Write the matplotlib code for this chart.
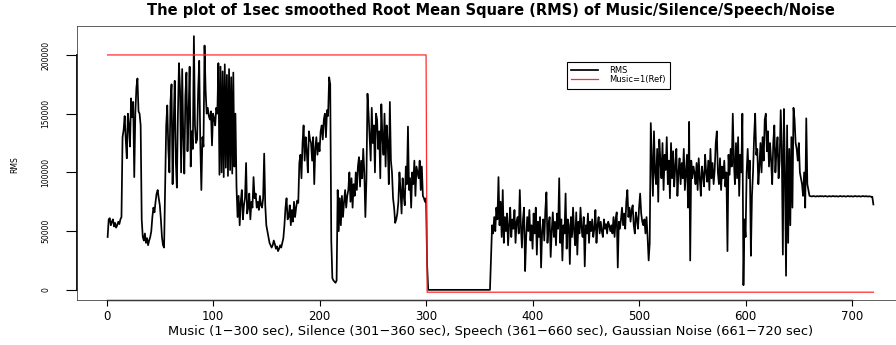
import numpy as np
import matplotlib
matplotlib.use("Agg")
import matplotlib.pyplot as plt


# 1 sec smoothed RMS, in thousands, one value per second
music = [45, 60, 61, 55, 58, 60, 54, 57, 53, 55, 58, 56, 60, 62,
         130, 136, 148, 128, 112, 150, 140, 122, 163, 147, 160, 96, 150, 172, 180, 152, 150, 140,
         60, 45, 42, 48, 40, 44, 38, 42, 45,
         50, 62, 70, 66, 75, 82, 85, 78, 72, 60, 45, 38, 36,
         90, 140, 157, 120, 100, 160, 175, 90, 140, 178, 110, 87, 150,
         193, 170, 100, 188, 130, 99, 165, 185, 118, 150, 190, 105, 135, 120,
         216, 140, 125, 128, 170, 195, 125, 85, 130, 122, 208, 170, 150,
         155, 148, 145, 152, 123, 150, 146, 140, 155, 150,
         193, 98, 190, 100, 186, 96, 192, 104, 183, 97, 188, 102, 181, 99, 185, 105, 150,
         88, 62, 80, 55, 75, 85, 60, 72, 78, 108, 65, 70, 82, 60, 75, 70, 96, 78, 82, 70,
         75, 68, 80, 72, 70, 78, 116, 72, 55, 50, 45, 40, 38,
         36, 38, 42, 39, 35, 37, 33, 35, 38, 36, 40, 44,
         55, 70, 78, 60, 62, 72, 55, 68, 58, 75, 62, 70, 76, 74,
         108, 115, 95, 125, 140, 110, 130, 118, 100, 135, 128, 125, 110, 130, 90,
         120, 130, 115, 125, 118, 135, 140, 128, 145, 150, 130, 153, 148, 181, 175,
         42, 10, 8, 7, 6, 8,
         85, 50, 78, 55, 80, 62, 75, 85, 70, 80,
         85, 100, 75, 95, 70, 90, 80, 100, 85, 105, 113, 88, 110, 95, 120, 100, 62, 94, 167,
         150, 130, 110, 155, 125, 140, 100, 150, 145, 120, 135, 95, 158, 130, 115,
         150, 105, 140, 125, 90, 160, 110, 100, 78, 70, 57, 60, 65,
         75, 100, 85, 65, 95, 80, 72, 105, 90, 139, 85, 95, 70, 100, 90,
         110, 80, 105, 100, 95, 110, 85, 105, 80, 78, 75, 78]

silence = [21] + [0] * 59

speech = [28, 55, 48, 62,
          50, 70, 60, 96, 55, 75, 45, 85, 40, 62,
          50, 65, 38, 55, 70, 45, 60, 52, 68, 40, 58, 62, 48, 85, 55, 36, 60, 70, 16, 45,
          62, 50, 68, 42,
          55, 35, 65, 48, 70, 30, 58, 45, 62, 19, 50, 60, 42, 68, 83, 40, 55, 62, 28, 50,
          66, 45, 58, 38, 65, 52, 95, 40, 60, 25, 55,
          48, 82, 35, 60, 55, 22, 62, 45, 70, 50, 38, 66, 30, 58, 48, 70, 52, 45, 62, 20,
          55, 48, 65, 40, 58, 50, 60, 45, 52, 68, 40, 55, 62, 48, 58, 50, 45, 60, 52, 56,
          48, 58, 55, 50,
          55, 48, 62, 45, 60, 66, 19, 58, 52,
          60, 70, 55, 65, 52, 75, 85, 62, 70, 58, 68, 72, 55, 48, 66, 60, 52, 70, 82, 65,
          58, 55, 60, 48, 62, 45, 25, 40,
          142, 110, 80, 135, 100, 90, 120, 75, 128, 110, 95, 125, 85, 115, 102, 130, 90, 110,
          78, 125, 95, 118, 88, 105, 120, 80, 100, 112, 90, 108, 95, 120, 85, 100, 115, 70,
          143, 25, 110, 95, 105,
          100, 90, 108, 85, 112, 95, 80, 105, 98, 88, 115, 100, 92, 110, 85, 120, 95, 108,
          90, 102, 125, 135, 100, 90, 112, 85, 105, 95, 110, 88, 100, 33, 115, 98, 120, 105, 150,
          110, 90, 125, 95, 130, 80, 115, 100, 150, 4, 60, 45, 100,
          120, 95, 110, 29, 80, 100, 130, 150, 115, 120, 90, 105, 125, 100, 130, 110, 145,
          150, 118, 135, 105, 125, 110, 90, 125, 140, 100, 118, 130, 95, 110,
          153, 120, 30, 154, 100, 12, 140, 40, 120, 55, 130, 70, 155, 145,
          125, 120, 110, 125, 100, 95, 90, 80, 100, 70, 146, 90, 85, 80]

noise = [79.8, 79.5, 79.7, 79.9, 79.6, 79.4, 79.8, 79.7, 79.5, 79.9,
         79.6, 79.8, 79.5, 79.7, 79.9, 79.6, 79.4, 79.7, 79.8, 79.5,
         79.6, 79.9, 79.7, 79.5, 79.8, 79.6, 79.4, 79.7, 79.9, 79.6,
         79.5, 79.8, 79.7, 79.4, 79.6, 79.9, 79.7, 79.5, 79.8, 79.6,
         79.4, 79.7, 79.9, 79.6, 79.5, 79.8, 79.7, 79.4, 79.6, 79.9,
         79.7, 79.5, 79.8, 79.6, 79.4, 79.7, 79.5, 79.3, 79.2, 72.7]

# reference: music = 1 (scaled), everything else below zero
ref_x = [1, 300, 301, 720]
ref_y = [200000, 200000, -2000, -2000]

rms = np.array(music + silence + speech + noise) * 1000
t = np.arange(1, len(rms) + 1)

fig = plt.figure(figsize=(8.96, 3.45), dpi=100)
W, H = 896, 345
# plot region (pixels): left 77, right 904 (past the edge), top 26, bottom 300
ax = fig.add_axes([77 / W, 45 / H, (904 - 77) / W, (300 - 26) / H])

ax.plot(t, rms, color="black", lw=1.25, label="RMS")
ax.plot(ref_x, ref_y, color="#ff2a2a", lw=0.9, label="Music=1(Ref)")

ax.set_xlim(-27.76, 748.76)
ax.set_ylim(-8640, 224640)

for s in ax.spines.values():
    s.set_linewidth(0.6)
    s.set_color("#444444")

ax.set_xticks(np.arange(0, 701, 100))
ax.set_yticks(np.arange(0, 200001, 50000))
ax.set_yticklabels([str(v) for v in range(0, 200001, 50000)], rotation=90, va="center")
ax.tick_params(axis="x", length=4, width=0.8, pad=3, labelsize=8.5, colors="black")
ax.tick_params(axis="y", length=8, width=0.8, pad=11, labelsize=5.5, colors="black")

# axis lines only between the first and last ticks, like base R
ax.plot([-27.76, -27.76], [0, 200000], color="black", lw=1.3, clip_on=False)
ax.plot([0, 700], [-8640, -8640], color="black", lw=1.0, clip_on=False)

leg = ax.legend(loc="upper left", bbox_to_anchor=((566.7 - 77) / 827, (300 - 61.7) / 274),
                fontsize=6, frameon=True, fancybox=False, framealpha=1,
                handlelength=3.2, handletextpad=1.3, borderpad=0.55, labelspacing=0.0,
                borderaxespad=0)
leg.get_frame().set_edgecolor("black")
leg.get_frame().set_linewidth(0.8)

fig.text(490.5 / W, 1 - 10 / H,
         "The plot of 1sec smoothed Root Mean Square (RMS) of Music/Silence/Speech/Noise",
         ha="center", va="center", fontsize=10.5, fontweight="bold")
fig.text(490.5 / W, 1 - 332 / H,
         "Music (1\u2212300 sec), Silence (301\u2212360 sec), Speech (361\u2212660 sec), Gaussian Noise (661\u2212720 sec)",
         ha="center", va="center", fontsize=9.4)
fig.text(15 / W, 1 - 165 / H, "RMS", rotation=90, ha="center", va="center", fontsize=5.5)

fig.savefig("out.png", dpi=100)
